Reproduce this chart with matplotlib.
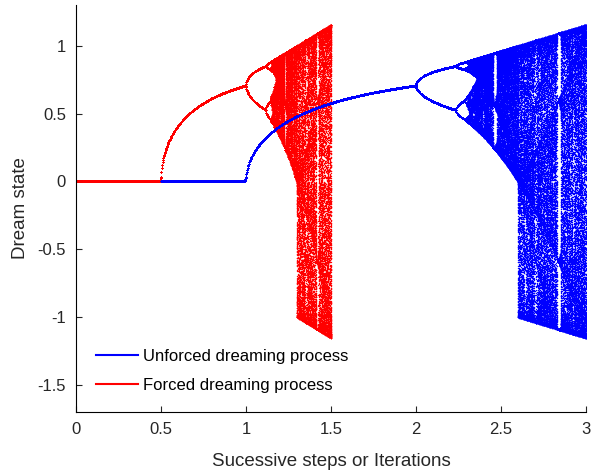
import numpy as np
import matplotlib
matplotlib.use('Agg')
import matplotlib.pyplot as plt

## map parameter ranges for the two processes (forced runs at double gain)
unforced_range = [0.5, 3.0]
forced_range = [0.0, 1.5]
forced_gain = 2.0
unforced_steps = 1000
forced_steps = 600
x_start = 0.1
n_transient = 400
n_keep = 220

labels = ['Unforced dreaming process', 'Forced dreaming process']
colors = ['#0000ff', '#ff0000']
xticks = [0, 0.5, 1, 1.5, 2, 2.5, 3]
yticks = [-1.5, -1, -0.5, 0, 0.5, 1]


def orbit(r):
    # iterate x -> r x (1 - x^2) and keep the settled states
    x = np.full_like(r, x_start)
    for _ in range(n_transient):
        x = r * x * (1 - x * x)
    out = np.empty((n_keep, r.size))
    for i in range(n_keep):
        x = r * x * (1 - x * x)
        out[i] = x
    return out


plt.rcParams['font.family'] = ['Liberation Sans', 'DejaVu Sans']
fig = plt.figure(figsize=(5.92, 4.70), dpi=100)
ax = fig.add_axes([0.128, 0.1234, 0.862, 0.866])

s = np.linspace(forced_range[0], forced_range[1] - 1e-6, forced_steps + 1)
xs = orbit(forced_gain * s)
ax.plot(np.tile(s, n_keep), xs.ravel(), 'o', ms=1.0, mew=0, color=colors[1])

r = np.linspace(unforced_range[0], unforced_range[1] - 1e-6, unforced_steps + 1)
xu = orbit(r)
ax.plot(np.tile(r, n_keep), xu.ravel(), 'o', ms=1.0, mew=0, color=colors[0])

## legend handles
h1, = ax.plot([], [], color=colors[0], lw=1.5)
h2, = ax.plot([], [], color=colors[1], lw=1.5)
ax.legend([h1, h2], labels, loc='lower left', bbox_to_anchor=(0.01, 0.01),
          frameon=False, fontsize=12, handlelength=2.5, labelspacing=0.85,
          handletextpad=0.3)

ax.set_xlim(0, 3)
ax.set_ylim(-1.7, 1.3)
ax.set_xticks(xticks)
ax.set_xticklabels(['0', '0.5', '1', '1.5', '2', '2.5', '3'])
ax.set_yticks(yticks)
ax.set_yticklabels(['-1.5', '-1', '-0.5', '0', '0.5', '1'])
ax.tick_params(direction='in', length=4, labelsize=12, colors='#262626', pad=7)
for side in ['top', 'right']:
    ax.spines[side].set_visible(False)
ax.set_xlabel('Sucessive steps or Iterations', fontsize=13.5, color='#262626', labelpad=12)
ax.set_ylabel('Dream state', fontsize=13.5, color='#262626', labelpad=6)

fig.savefig('out.png', dpi=100)
